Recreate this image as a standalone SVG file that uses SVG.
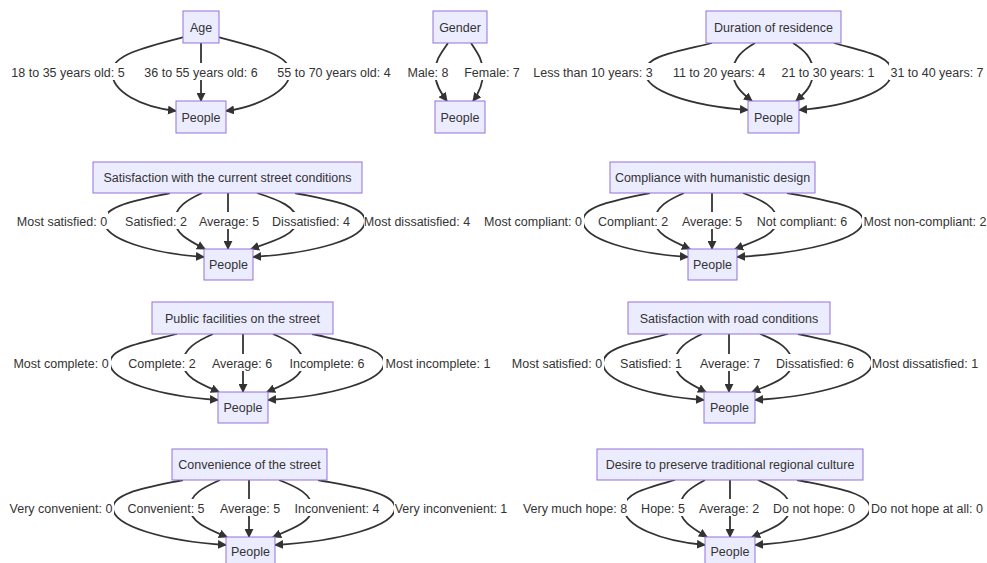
<svg xmlns="http://www.w3.org/2000/svg" width="987" height="563" viewBox="0 0 987 563">
<defs>
<style>
.n rect{fill:#ECECFF;stroke:#9370DB;stroke-width:1}
.n text{font-family:"Liberation Sans",Arial,sans-serif;font-size:12.5px;fill:#333;text-anchor:middle}
.e path{fill:none;stroke:#333;stroke-width:1.8;marker-end:url(#ah)}
.l rect{fill:#fff}
.l text{font-family:"Liberation Sans",Arial,sans-serif;font-size:12.5px;fill:#333;text-anchor:middle}
</style>
<marker id="ah" viewBox="0 0 10 10" refX="9" refY="5" markerWidth="9" markerHeight="9" markerUnits="userSpaceOnUse" orient="auto"><path d="M0,0 L10,5 L0,10 z" fill="#333"/></marker>
</defs>
<rect width="987" height="563" fill="#fff"/>

<g id="connectors" class="e">
<!-- Age -->
<path d="M184,37 C145,47 112,55 112,72 C112,92 141,107 176,111"/>
<path d="M201,43 L201,101"/>
<path d="M218,37 C257,47 290,55 290,72 C290,92 255,107 226,111"/>
<!-- Gender -->
<path d="M448,43 C442,52 435,60 435,72 C435,84 441,93 447,101"/>
<path d="M471,43 C477,52 483,60 483,72 C483,84 479,93 473,101"/>
<!-- Duration -->
<path d="M712,43 C675,52 645,56 645,72 C645,91 691,106 748,110"/>
<path d="M755,43 C743,50 733,58 733,72 C733,86 743,94 752,101"/>
<path d="M793,43 C804,50 813,58 813,72 C813,86 804,94 796,101"/>
<path d="M834,43 C866,52 892,56 892,72 C892,91 850,106 799,110"/>
<!-- Satisfaction street -->
<path d="M170,193 C134,201 104,206 104,221 C104,239 149,253 204,257"/>
<path d="M202,193 C187,200 175,207 175,221 C175,234 190,241 205,249"/>
<path d="M228,193 L228,249"/>
<path d="M257,193 C279,200 297,207 297,221 C297,234 274,241 251,249"/>
<path d="M295,193 C333,201 365,206 365,221 C365,239 315,253 253,257"/>
<!-- Compliance -->
<path d="M650,193 C613,201 583,206 583,221 C583,239 630,253 688,257"/>
<path d="M684,193 C668,200 655,207 655,221 C655,234 672,241 690,249"/>
<path d="M712,193 L712,249"/>
<path d="M743,193 C762,200 777,207 777,221 C777,234 756,241 735,249"/>
<path d="M787,193 C829,201 863,206 863,221 C863,239 806,253 737,257"/>
<!-- Public facilities -->
<path d="M177,334 C140,343 110,348 110,363 C110,381 159,396 218,400"/>
<path d="M213,334 C197,341 183,349 183,363 C183,377 201,384 219,392"/>
<path d="M243,334 L243,392"/>
<path d="M273,334 C290,341 303,349 303,363 C303,377 285,384 267,392"/>
<path d="M312,334 C352,343 384,348 384,363 C384,381 332,396 268,400"/>
<!-- Road -->
<path d="M668,334 C632,343 603,348 603,363 C603,381 648,396 704,400"/>
<path d="M702,334 C687,341 675,349 675,363 C675,377 690,384 706,392"/>
<path d="M729,334 L729,392"/>
<path d="M760,334 C778,341 792,349 792,363 C792,377 772,384 752,392"/>
<path d="M798,334 C839,343 872,348 872,363 C872,381 819,396 755,400"/>
<!-- Convenience -->
<path d="M183,480 C145,488 113,493 113,508 C113,526 164,541 226,545"/>
<path d="M220,480 C204,487 190,494 190,508 C190,522 208,529 227,537"/>
<path d="M249,480 L249,537"/>
<path d="M279,480 C297,487 312,494 312,508 C312,522 292,529 273,537"/>
<path d="M318,480 C360,488 395,493 395,508 C395,526 341,541 275,545"/>
<!-- Desire -->
<path d="M675,480 C647,488 624,493 624,508 C624,526 660,541 705,545"/>
<path d="M705,480 C692,487 680,494 680,508 C680,522 694,529 707,537"/>
<path d="M730,480 L730,537"/>
<path d="M758,480 C774,487 790,494 790,508 C790,522 771,529 752,537"/>
<path d="M797,480 C836,488 870,493 870,508 C870,526 816,541 755,545"/>
</g>

<g id="edge-labels" class="l">
<rect x="10" y="63" width="116" height="17"/><text x="68" y="76.5">18 to 35 years old: 5</text>
<rect x="142" y="63" width="117" height="17"/><text x="201" y="76.5">36 to 55 years old: 6</text>
<rect x="275" y="63" width="117" height="17"/><text x="334" y="76.5">55 to 70 years old: 4</text>
<rect x="406" y="63" width="43" height="17"/><text x="428" y="76.5">Male: 8</text>
<rect x="464" y="63" width="56" height="17"/><text x="492" y="76.5">Female: 7</text>
<rect x="534" y="63" width="118" height="17"/><text x="593" y="76.5">Less than 10 years: 3</text>
<rect x="671" y="63" width="96" height="17"/><text x="719" y="76.5">11 to 20 years: 4</text>
<rect x="781" y="63" width="95" height="17"/><text x="828" y="76.5">21 to 30 years: 1</text>
<rect x="889" y="63" width="95" height="17"/><text x="937" y="76.5">31 to 40 years: 7</text>

<rect x="16" y="212" width="92" height="17"/><text x="62" y="225.5">Most satisfied: 0</text>
<rect x="123" y="212" width="66" height="17"/><text x="156" y="225.5">Satisfied: 2</text>
<rect x="199" y="212" width="60" height="17"/><text x="229" y="225.5">Average: 5</text>
<rect x="272" y="212" width="79" height="17"/><text x="311" y="225.5">Dissatisfied: 4</text>
<rect x="364" y="212" width="107" height="17"/><text x="417" y="225.5">Most dissatisfied: 4</text>
<rect x="483" y="212" width="101" height="17"/><text x="533" y="225.5">Most compliant: 0</text>
<rect x="597" y="212" width="72" height="17"/><text x="633" y="225.5">Compliant: 2</text>
<rect x="683" y="212" width="58" height="17"/><text x="712" y="225.5">Average: 5</text>
<rect x="756" y="212" width="93" height="17"/><text x="802" y="225.5">Not compliant: 6</text>
<rect x="862" y="212" width="125" height="17"/><text x="925" y="225.5">Most non-compliant: 2</text>

<rect x="11" y="354" width="100" height="17"/><text x="61" y="367.5">Most complete: 0</text>
<rect x="127" y="354" width="71" height="17"/><text x="162" y="367.5">Complete: 2</text>
<rect x="211" y="354" width="63" height="17"/><text x="242" y="367.5">Average: 6</text>
<rect x="286" y="354" width="83" height="17"/><text x="327" y="367.5">Incomplete: 6</text>
<rect x="383" y="354" width="111" height="17"/><text x="438" y="367.5">Most incomplete: 1</text>
<rect x="509" y="354" width="95" height="17"/><text x="557" y="367.5">Most satisfied: 0</text>
<rect x="617" y="354" width="67" height="17"/><text x="651" y="367.5">Satisfied: 1</text>
<rect x="699" y="354" width="62" height="17"/><text x="730" y="367.5">Average: 7</text>
<rect x="774" y="354" width="83" height="17"/><text x="815" y="367.5">Dissatisfied: 6</text>
<rect x="871" y="354" width="108" height="17"/><text x="925" y="367.5">Most dissatisfied: 1</text>

<rect x="9" y="499" width="105" height="17"/><text x="61" y="512.5">Very convenient: 0</text>
<rect x="127" y="499" width="78" height="17"/><text x="166" y="512.5">Convenient: 5</text>
<rect x="219" y="499" width="61" height="17"/><text x="250" y="512.5">Average: 5</text>
<rect x="292" y="499" width="89" height="17"/><text x="337" y="512.5">Inconvenient: 4</text>
<rect x="394" y="499" width="114" height="17"/><text x="451" y="512.5">Very inconvenient: 1</text>
<rect x="522" y="499" width="105" height="17"/><text x="575" y="512.5">Very much hope: 8</text>
<rect x="641" y="499" width="45" height="17"/><text x="663" y="512.5">Hope: 5</text>
<rect x="699" y="499" width="60" height="17"/><text x="729" y="512.5">Average: 2</text>
<rect x="772" y="499" width="84" height="17"/><text x="814" y="512.5">Do not hope: 0</text>
<rect x="869" y="499" width="117" height="17"/><text x="927" y="512.5">Do not hope at all: 0</text>
</g>

<g id="age" class="n"><rect x="183" y="11" width="36" height="32"/><text x="201" y="31.5">Age</text></g>
<g id="age-people" class="n"><rect x="176" y="101" width="50" height="32"/><text x="201" y="121.5">People</text></g>
<g id="gender" class="n"><rect x="433" y="11" width="54" height="32"/><text x="460" y="31.5">Gender</text></g>
<g id="gender-people" class="n"><rect x="435" y="101" width="50" height="32"/><text x="460" y="121.5">People</text></g>
<g id="duration" class="n"><rect x="706" y="11" width="135" height="32"/><text x="773.5" y="31.5">Duration of residence</text></g>
<g id="duration-people" class="n"><rect x="748" y="101" width="51" height="32"/><text x="773.5" y="121.5">People</text></g>

<g id="street-satisfaction" class="n"><rect x="93" y="162" width="269" height="31"/><text x="227.5" y="182">Satisfaction with the current street conditions</text></g>
<g id="street-satisfaction-people" class="n"><rect x="204" y="249" width="49" height="31"/><text x="228.5" y="269">People</text></g>
<g id="compliance" class="n"><rect x="610" y="162" width="205" height="31"/><text x="712.5" y="182">Compliance with humanistic design</text></g>
<g id="compliance-people" class="n"><rect x="688" y="249" width="49" height="31"/><text x="712.5" y="269">People</text></g>

<g id="facilities" class="n"><rect x="152" y="302" width="181" height="32"/><text x="242.5" y="322.5">Public facilities on the street</text></g>
<g id="facilities-people" class="n"><rect x="218" y="392" width="50" height="31"/><text x="243" y="412">People</text></g>
<g id="road" class="n"><rect x="628" y="302" width="202" height="32"/><text x="729" y="322.5">Satisfaction with road conditions</text></g>
<g id="road-people" class="n"><rect x="704" y="392" width="51" height="31"/><text x="729.5" y="412">People</text></g>

<g id="convenience" class="n"><rect x="172" y="449" width="155" height="31"/><text x="249.5" y="469">Convenience of the street</text></g>
<g id="convenience-people" class="n"><rect x="226" y="537" width="49" height="31"/><text x="250.5" y="556">People</text></g>
<g id="culture" class="n"><rect x="597" y="449" width="266" height="31"/><text x="730" y="469">Desire to preserve traditional regional culture</text></g>
<g id="culture-people" class="n"><rect x="705" y="537" width="50" height="31"/><text x="730" y="556">People</text></g>
</svg>
